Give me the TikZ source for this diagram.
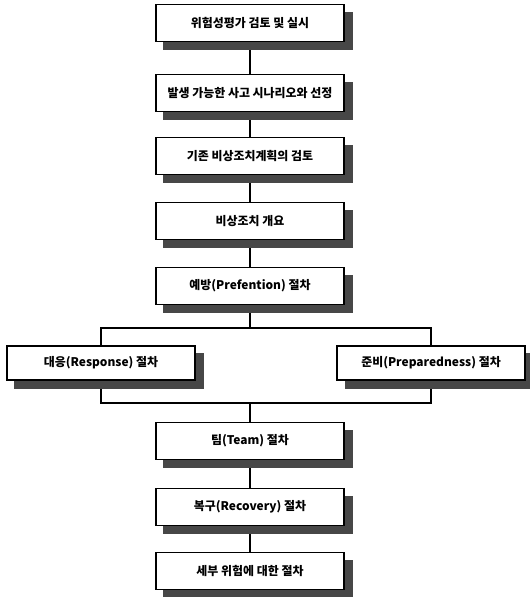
\documentclass[tikz,border=0pt]{standalone}
\usepackage{fontspec}
\setmainfont{Noto Sans CJK KR}
\usetikzlibrary{backgrounds}

\tikzset{
  stage/.style={draw, line width=0.6pt, fill=white, inner sep=0pt,
    minimum width=3.76cm, minimum height=0.74cm,
    font=\fontsize{6.8}{8}\selectfont\bfseries},
  side/.style={stage, minimum height=0.68cm},
  link/.style={line width=0.6pt},
  shade/.style={fill=black!72}
}

\begin{document}
\begin{tikzpicture}[x=0.02cm, y=-0.02cm]
\useasboundingbox (0,0) rectangle (529,597);
% upper column
\foreach \n/\y/\t in {risk/23/{위험성평가 검토 및 실시},
                      scen/93/{발생 가능한 사고 시나리오와 선정},
                      plan/156/{기존 비상조치계획의 검토},
                      outl/221/{비상조치 개요},
                      prev/286/{예방(Prefention) 절차}} {
    \node[stage] (\n) at (250,\y) {\t};
}
% two branches
\node[side] (resp) at (101,363) {대응(Response) 절차};
\node[side] (prep) at (431,363) {준비(Preparedness) 절차};
% lower column
\foreach \n/\y/\t in {team/441/{팀(Team) 절차},
                      reco/507/{복구(Recovery) 절차},
                      detl/571/{세부 위험에 대한 절차}} {
    \node[stage] (\n) at (250,\y) {\t};
}
\coordinate (split) at (250,328);
\coordinate (merge) at (250,403);
% connectors and shadows, behind the boxes
\begin{scope}[on background layer]
\foreach \a/\b in {risk/scen, scen/plan, plan/outl, outl/prev, team/reco, reco/detl} {
    \draw[link] (\a.south) -- (\b.north);
}
\draw[link] (prev.south) -- (split);
\draw[link] (resp.north) |- (split) -| (prep.north);
\draw[link] (resp.south) |- (merge) -| (prep.south);
\draw[link] (merge) -- (team.north);
\foreach \n in {risk, scen, plan, outl, prev, resp, prep, team, reco, detl} {
    \fill[shade] ([shift={(8,8)}]\n.north west) rectangle ([shift={(8,8)}]\n.south east);
}
\end{scope}
\end{tikzpicture}
\end{document}
